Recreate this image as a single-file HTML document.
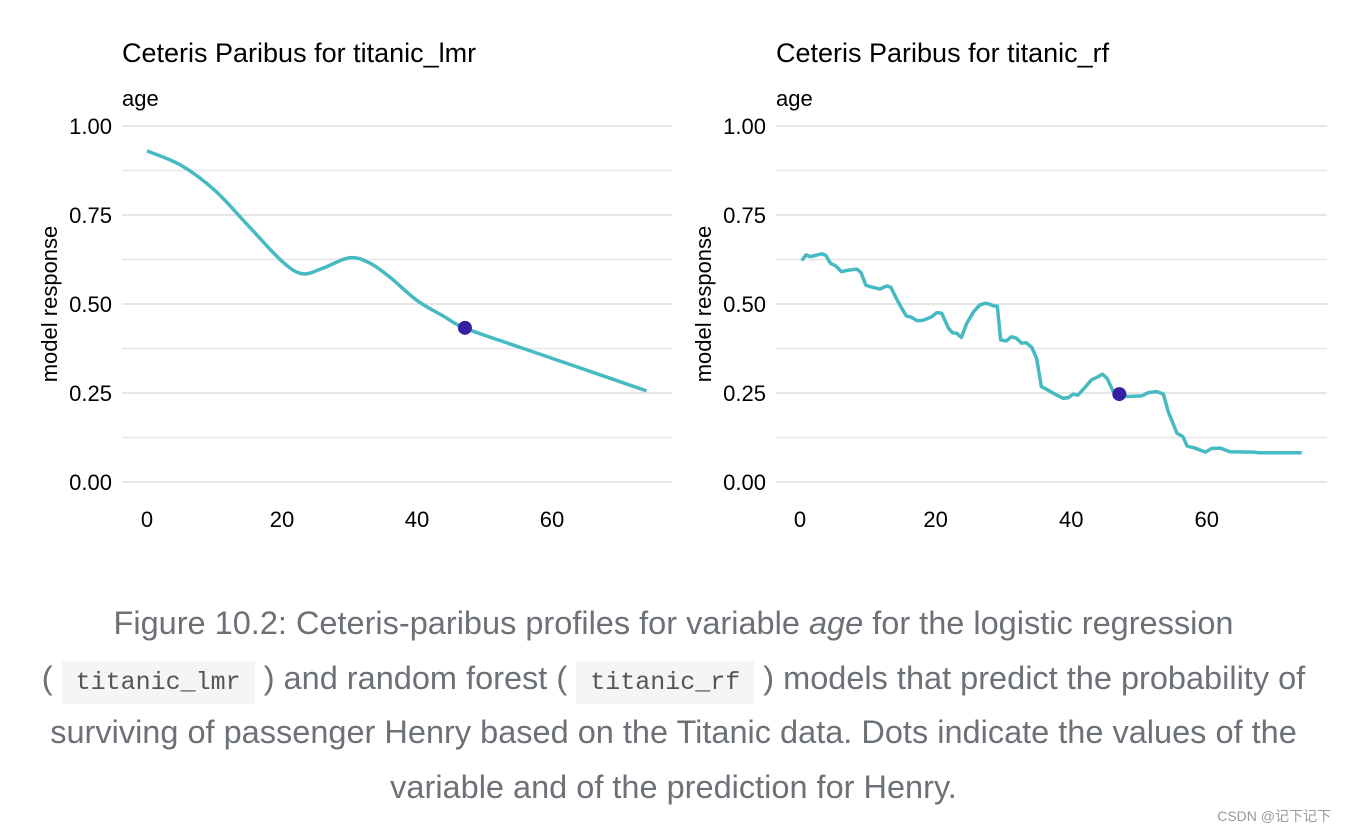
<!DOCTYPE html>
<html><head><meta charset="utf-8"><style>
body{margin:0;width:1347px;height:834px;background:#fff;position:relative;overflow:hidden;font-family:"Liberation Sans",sans-serif}
svg{position:absolute;left:0;top:0}
.cap{position:absolute;left:0;width:1347px;text-align:center;color:#6c7177;font-size:32.5px;line-height:54.5px;white-space:nowrap}
code{font-family:"Liberation Mono",monospace;font-size:25px;line-height:1;background:#f5f5f5;padding:7px 14px;color:#555}
.wm{position:absolute;right:16px;top:806px;font-size:14px;color:#999;font-family:"Liberation Sans","Noto Sans CJK SC",sans-serif}
</style></head><body>
<svg id="chart" width="1347" height="600"></svg>
<div class="cap" style="top:596px">Figure 10.2: Ceteris-paribus profiles for variable <i>age</i> for the logistic regression<br>( <code>titanic_lmr</code> ) and random forest ( <code>titanic_rf</code> ) models that predict the probability of<br>surviving of passenger Henry based on the Titanic data. Dots indicate the values of the<br>variable and of the prediction for Henry.</div>
<div class="wm">CSDN @记下记下</div>
<script>
const yTicks=[0,0.25,0.5,0.75,1.0];
const yTickLabels=["0.00","0.25","0.50","0.75","1.00"];
const xTicks=[0,20,40,60];
const lmrAge=[0,5,10,15,20,23,26,30,33,36,40,44,47,55,65,74];
const lmrVal=[0.93,0.89,0.82,0.72,0.62,0.585,0.60,0.63,0.615,0.575,0.51,0.465,0.433,0.38,0.315,0.256];
const rfAge=[0.25,0.9,1.5,2.2,3.2,3.8,4.5,5.2,6.1,7.1,8.4,9.0,9.7,10.3,11.8,12.8,13.4,14.2,15.0,15.7,16.3,17.3,18.1,19.4,20.2,20.9,21.9,22.5,23.1,23.8,24.6,25.6,26.5,27.3,27.9,28.5,29.1,29.6,30.4,31.2,31.9,32.7,33.4,34.2,34.9,35.6,36.4,37.4,38.8,39.6,40.3,41.0,42.0,43.0,43.8,44.6,45.3,46.2,47.1,48.4,50.4,51.4,52.6,53.6,54.3,55.6,56.5,57.1,58.3,59.8,60.7,62.0,63.4,66.9,67.8,74.0];
const rfVal=[0.622,0.638,0.633,0.636,0.641,0.637,0.614,0.608,0.591,0.595,0.598,0.588,0.553,0.549,0.542,0.551,0.547,0.516,0.488,0.466,0.464,0.453,0.454,0.464,0.476,0.474,0.432,0.419,0.418,0.406,0.446,0.478,0.497,0.502,0.500,0.495,0.494,0.399,0.396,0.408,0.404,0.390,0.391,0.378,0.347,0.268,0.260,0.249,0.235,0.237,0.247,0.244,0.265,0.287,0.294,0.303,0.291,0.254,0.247,0.240,0.242,0.251,0.254,0.247,0.198,0.137,0.127,0.101,0.095,0.084,0.094,0.095,0.085,0.084,0.082,0.082];
const henryAge=[47.1,47.1];
const henryVal=[0.433,0.247];
const NS="http://www.w3.org/2000/svg";
const svg=document.getElementById('chart');
function mk(t,a,p){const e=document.createElementNS(NS,t);for(const k in a)e.setAttribute(k,a[k]);(p||svg).appendChild(e);return e;}
const panels=[{x0:147,sx:6.75,gl:122,gr:672,title:"Ceteris Paribus for titanic_lmr",ax:lmrAge,vals:lmrVal,smooth:true,name:'lmr'},
{x0:800,sx:6.78,gl:776,gr:1327,title:"Ceteris Paribus for titanic_rf",ax:rfAge,vals:rfVal,smooth:false,name:'rf'}];
const Y=v=>482-356*v;
panels.forEach((p,i)=>{
  const g=mk('g',{});
  
  
  const X=a=>p.x0+p.sx*a;
  for(let k=0;k<=8;k++){const v=k/8;const l=mk('line',{x1:p.gl,x2:p.gr,y1:Y(v),y2:Y(v),stroke:'#e6e6e6','stroke-width':k%2?1.5:2},g);
    }
  yTicks.forEach((v,k)=>{const t=mk('text',{x:p.gl-10,y:Y(v)+8,'text-anchor':'end','font-size':22,fill:'#000'},g);t.textContent=yTickLabels[k];
    });
  xTicks.forEach(v=>{const t=mk('text',{x:X(v),y:527,'text-anchor':'middle','font-size':22,fill:'#000'},g);t.textContent=String(v);
    });
  const tt=mk('text',{x:p.gl,y:62,'font-size':27,fill:'#000'},g);tt.textContent=p.title;
  
  const st=mk('text',{x:p.gl,y:106,'font-size':22,fill:'#000'},g);st.textContent='age';
  
  const yl=mk('text',{x:0,y:0,'font-size':22,fill:'#000','text-anchor':'middle',transform:`translate(${p.gl-65},304) rotate(-90)`},g);yl.textContent='model response';
  
  const pts=p.ax.map((a,k)=>[X(a),Y(p.vals[k])]);
  let d='M'+pts[0].join(',');
  if(p.smooth){for(let k=0;k<pts.length-1;k++){const p0=pts[Math.max(0,k-1)],p1=pts[k],p2=pts[k+1],p3=pts[Math.min(pts.length-1,k+2)];
    d+=` C${p1[0]+(p2[0]-p0[0])/6},${p1[1]+(p2[1]-p0[1])/6} ${p2[0]-(p3[0]-p1[0])/6},${p2[1]-(p3[1]-p1[1])/6} ${p2[0]},${p2[1]}`;}}
  else pts.slice(1).forEach(q=>d+=' L'+q.join(','));
  const ln=mk('path',{d,fill:'none',stroke:'#46bac2','stroke-width':3.5,'stroke-linejoin':'round'},g);
  
  const c=mk('circle',{cx:X(henryAge[i]),cy:Y(henryVal[i]),r:7,fill:'#371ea3'},g);
  
});
</script>
</body></html>
